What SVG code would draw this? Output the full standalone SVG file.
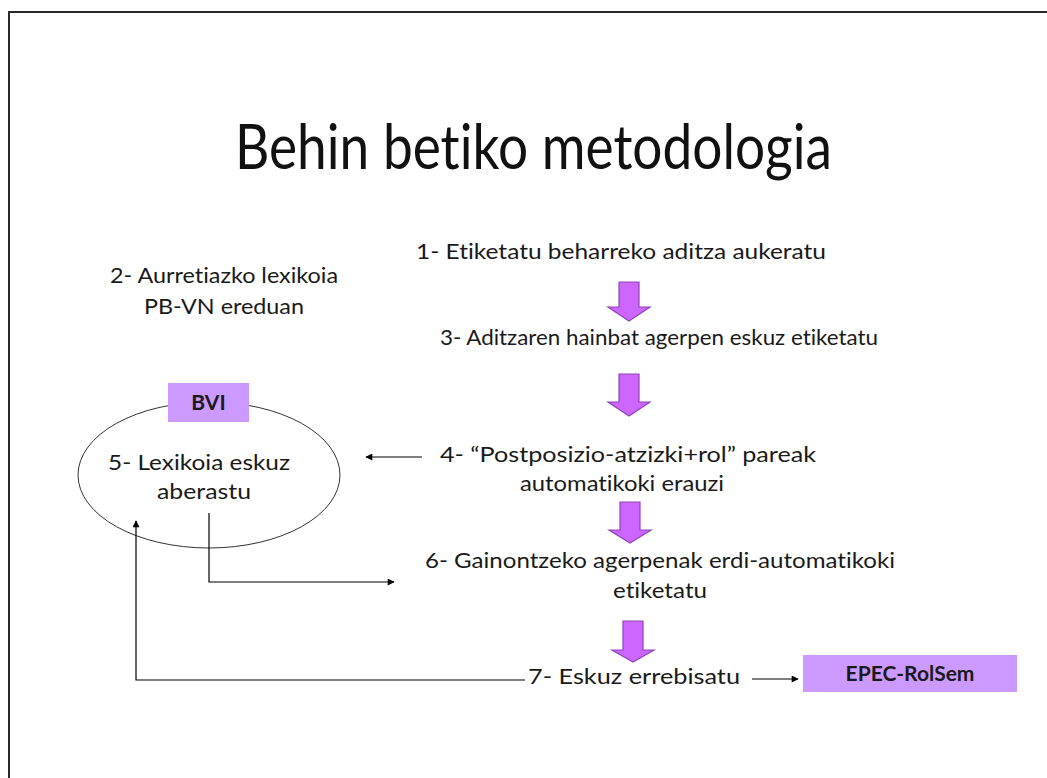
<svg xmlns="http://www.w3.org/2000/svg" width="1047" height="778" viewBox="0 0 1047 778">
<defs>
<style>
text{font-variant-ligatures:none;font-feature-settings:"liga" 0,"clig" 0}
.t{font-family:Lato,"Open Sans","Liberation Sans",sans-serif;font-size:22px;fill:#1a1a1a}
.title{font-family:Lato,"Open Sans","Liberation Sans",sans-serif;font-size:61px;fill:#111}
.b{font-family:Lato,"Open Sans","Liberation Sans",sans-serif;font-size:21px;font-weight:bold;fill:#1a1a1a}
.box{fill:#cc99ff}
.big{fill:#cc66ff;stroke:#8e44b8;stroke-width:1.2}
.c{fill:none;stroke:#000;stroke-width:1.2}
</style>
<marker id="ah" viewBox="0 0 10 10" refX="9" refY="5" markerWidth="9" markerHeight="7" markerUnits="userSpaceOnUse" orient="auto">
<path d="M0,0 L10,5 L0,10 z" fill="#000"/>
</marker>
</defs>
<rect width="1047" height="778" fill="#fff"/>
<path d="M9,778 L9,12 L1047,12" fill="none" stroke="#2a2a2a" stroke-width="2"/>
<text class="title" x="235" y="169" textLength="597" lengthAdjust="spacingAndGlyphs">Behin betiko metodologia</text>

<g id="n1"><text class="t" x="416" y="259" textLength="410" lengthAdjust="spacingAndGlyphs">1- Etiketatu beharreko aditza aukeratu</text></g>
<g id="n2"><text class="t" x="110" y="283" textLength="228" lengthAdjust="spacingAndGlyphs">2- Aurretiazko lexikoia</text><text class="t" x="144" y="314" textLength="160" lengthAdjust="spacingAndGlyphs">PB-VN ereduan</text></g>
<g id="n3"><text class="t" x="440" y="345" textLength="438" lengthAdjust="spacingAndGlyphs">3- Aditzaren hainbat agerpen eskuz etiketatu</text></g>
<g id="n5"><ellipse cx="209" cy="475" rx="131" ry="73" fill="none" stroke="#333" stroke-width="1"/>
<rect class="box" x="168" y="383" width="81" height="39"/>
<text class="b" x="208.5" y="410" text-anchor="middle">BVI</text>
<text class="t" x="108" y="470" textLength="182" lengthAdjust="spacingAndGlyphs">5- Lexikoia eskuz</text>
<text class="t" x="157" y="499" textLength="94" lengthAdjust="spacingAndGlyphs">aberastu</text></g>
<g id="n4"><text class="t" x="440" y="462" textLength="376" lengthAdjust="spacingAndGlyphs">4- “Postposizio-atzizki+rol” pareak</text><text class="t" x="520" y="491" textLength="204" lengthAdjust="spacingAndGlyphs">automatikoki erauzi</text></g>
<g id="n6"><text class="t" x="425" y="568" textLength="470" lengthAdjust="spacingAndGlyphs">6- Gainontzeko agerpenak erdi-automatikoki</text><text class="t" x="613" y="598" textLength="94" lengthAdjust="spacingAndGlyphs">etiketatu</text></g>
<g id="n7"><text class="t" x="528" y="684" textLength="212" lengthAdjust="spacingAndGlyphs">7- Eskuz errebisatu</text></g>
<g id="epec"><rect class="box" x="803" y="655" width="214" height="37"/><text class="b" x="910" y="681" text-anchor="middle">EPEC-RolSem</text></g>

<g id="connectors">
<path class="big" d="M619,282 H639 V307 H650 L629,321 L608,307 H619 Z"/>
<path class="big" d="M619,374 H639 V402 H650 L629,416 L608,402 H619 Z"/>
<path class="big" d="M620,502 H640 V530 H651 L630,543 L609,530 H620 Z"/>
<path class="big" d="M623,621 H643 V650 H654 L633,662 L612,650 H623 Z"/>
<path class="c" d="M422,457 H366" marker-end="url(#ah)"/>
<path class="c" d="M209,513 V582 H394" marker-end="url(#ah)"/>
<path class="c" d="M525,680 H136 V521" marker-end="url(#ah)"/>
<path class="c" d="M752,679 H798" marker-end="url(#ah)"/>
</g>
</svg>
